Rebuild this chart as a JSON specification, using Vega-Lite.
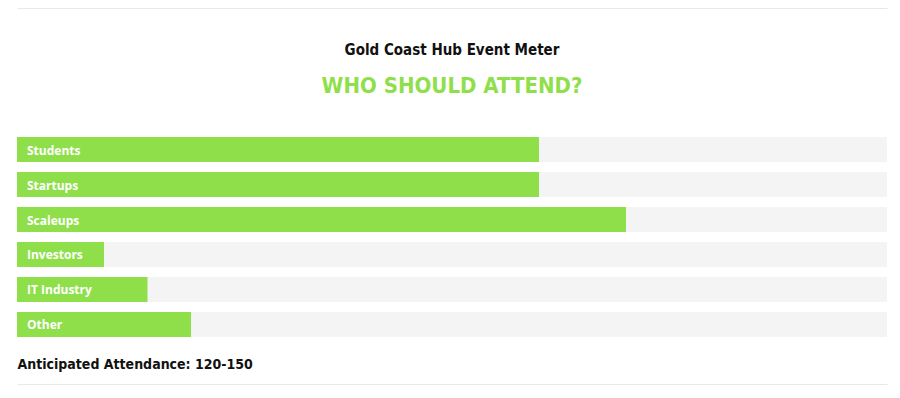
{
  "$schema": "https://vega.github.io/schema/vega-lite/v6.json",
  "width": 870,
  "height": 200,
  "autosize": "none",
  "padding": {"left": 17, "top": 137, "right": 13, "bottom": 61},
  "background": "#ffffff",
  "config": {"view": {"stroke": null}},
  "title": {
    "text": "Gold Coast Hub Event Meter",
    "subtitle": "WHO SHOULD ATTEND?",
    "anchor": "middle",
    "offset": -89,
    "font": "DejaVu Sans Condensed",
    "fontSize": 15,
    "fontWeight": "bold",
    "color": "#111111",
    "subtitleFont": "DejaVu Sans Condensed",
    "subtitleFontSize": 22,
    "subtitleFontWeight": "bold",
    "subtitleColor": "#8fdf4b",
    "subtitlePadding": 18
  },
  "data": {
    "values": [
      {"group": "Students", "value": 60, "max": 100},
      {"group": "Startups", "value": 60, "max": 100},
      {"group": "Scaleups", "value": 70, "max": 100},
      {"group": "Investors", "value": 10, "max": 100},
      {"group": "IT Industry", "value": 15, "max": 100},
      {"group": "Other", "value": 20, "max": 100}
    ]
  },
  "encoding": {
    "y": {
      "field": "group",
      "type": "nominal",
      "sort": null,
      "scale": {"paddingInner": 0.2857, "paddingOuter": 0},
      "axis": null
    }
  },
  "layer": [
    {
      "mark": {"type": "bar", "color": "#f4f4f4", "cornerRadius": 0},
      "encoding": {
        "x": {
          "field": "max",
          "type": "quantitative",
          "scale": {"domain": [0, 100], "nice": false},
          "axis": {
            "orient": "top",
            "offset": 129,
            "domain": true,
            "domainColor": "#e9e9e9",
            "domainWidth": 1,
            "ticks": false,
            "labels": false,
            "grid": false,
            "title": null
          }
        }
      }
    },
    {
      "mark": {"type": "bar", "color": "#8fdf4b"},
      "encoding": {
        "x": {
          "field": "value",
          "type": "quantitative",
          "scale": {"domain": [0, 100], "nice": false},
          "axis": {
            "orient": "bottom",
            "offset": 47,
            "domain": true,
            "domainColor": "#e9e9e9",
            "domainWidth": 1,
            "ticks": false,
            "labels": false,
            "grid": false,
            "title": "Anticipated Attendance: 120-150",
            "titleFont": "DejaVu Sans Condensed",
            "titleFontSize": 14,
            "titleFontWeight": "bold",
            "titleColor": "#111111",
            "titleX": 0,
            "titleY": -16,
            "titleAlign": "left",
            "titleBaseline": "alphabetic"
          }
        }
      }
    },
    {
      "mark": {
        "type": "text",
        "align": "left",
        "baseline": "middle",
        "dx": 10,
        "dy": 1,
        "font": "Open Sans",
        "fontSize": 12,
        "fontWeight": "bold",
        "color": "#ffffff"
      },
      "encoding": {
        "x": {"datum": 0, "type": "quantitative", "axis": null},
        "text": {"field": "group"}
      }
    }
  ],
  "resolve": {"axis": {"x": "independent"}}
}
